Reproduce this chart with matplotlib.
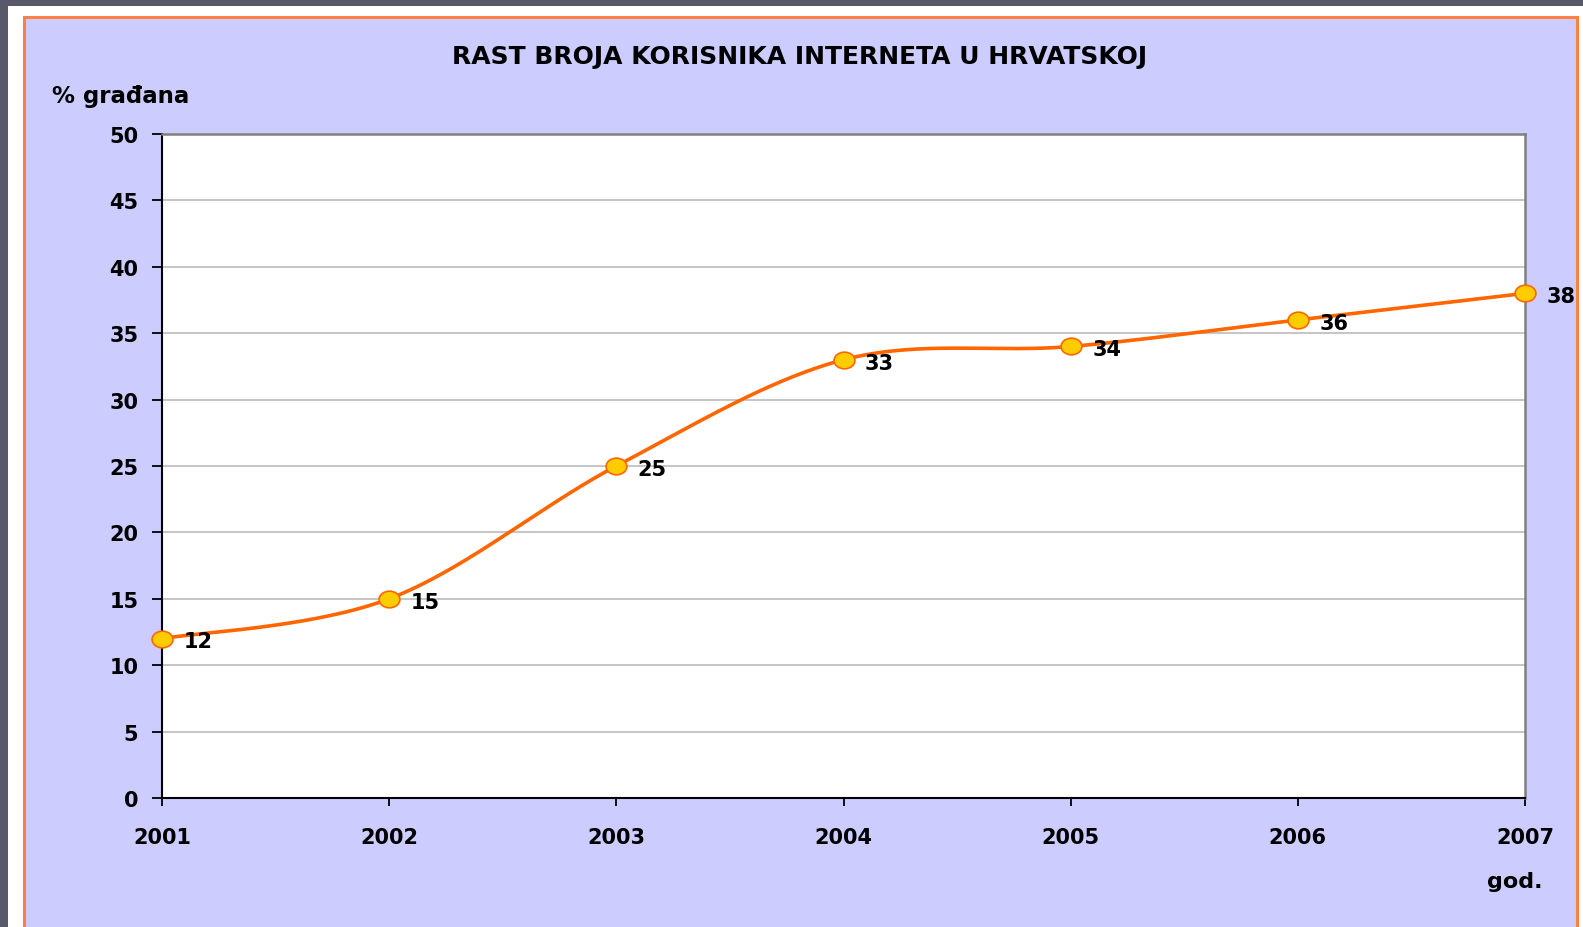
import numpy as np
import matplotlib
matplotlib.use("Agg")
import matplotlib.pyplot as plt
from matplotlib.patches import Rectangle
from matplotlib.path import Path
from matplotlib.transforms import Affine2D

years = [2001, 2002, 2003, 2004, 2005, 2006, 2007]
values = [12, 15, 25, 33, 34, 36, 38]
yticks = [0, 5, 10, 15, 20, 25, 30, 35, 40, 45, 50]
title = "RAST BROJA KORISNIKA INTERNETA U HRVATSKOJ"
ylabel = "% građana"
xlabel = "god."

plt.rcParams['font.family'] = ['DejaVu Sans']
plt.rcParams['font.weight'] = 'bold'

W, H = 1583, 928
fig = plt.figure(figsize=(W / 100, H / 100), dpi=100)
fig.patch.set_facecolor('white')

def fx(px):
    return px / W

def fy(py):
    return 1 - py / H

# dark outer strips
fig.patches.append(Rectangle((0, fy(7)), 1, 7 / H, transform=fig.transFigure,
                             facecolor='#585a6b', edgecolor='none', zorder=0))
fig.patches.append(Rectangle((0, 0), fx(8), 1, transform=fig.transFigure,
                             facecolor='#585a6b', edgecolor='none', zorder=0))
# lavender panel with orange border
fig.patches.append(Rectangle((fx(24), fy(935)), fx(1577 - 24), (935 - 18) / H,
                             transform=fig.transFigure, facecolor='#ccccff',
                             edgecolor='#ff8040', linewidth=2.2, zorder=1))

ax = fig.add_axes([fx(162), fy(799), fx(1525 - 162), (799 - 135) / H])
ax.set_facecolor('white')
ax.set_zorder(2)

# smooth curve (Catmull-Rom through the data points, like Excel smoothing)
x = np.array(years, dtype=float)
y = np.array(values, dtype=float)
n = len(x)
mx = np.zeros(n)
my = np.zeros(n)
for i in range(n):
    i0 = max(i - 1, 0)
    i1 = min(i + 1, n - 1)
    mx[i] = (x[i1] - x[i0]) / 2
    my[i] = (y[i1] - y[i0]) / 2
cx, cy = [], []
t = np.linspace(0, 1, 60)
h00 = 2 * t**3 - 3 * t**2 + 1
h10 = t**3 - 2 * t**2 + t
h01 = -2 * t**3 + 3 * t**2
h11 = t**3 - t**2
for i in range(n - 1):
    cx.extend(h00 * x[i] + h10 * mx[i] + h01 * x[i + 1] + h11 * mx[i + 1])
    cy.extend(h00 * y[i] + h10 * my[i] + h01 * y[i + 1] + h11 * my[i + 1])
ax.plot(cx, cy, color='#ff6600', linewidth=2.6, zorder=3, clip_on=False,
        solid_capstyle='round')

ell = Path.unit_circle().transformed(Affine2D().scale(1.25, 1.0))
ax.plot(years, values, linestyle='none', marker=ell, markersize=15,
        markerfacecolor='#ffcc00', markeredgecolor='#ff6600',
        markeredgewidth=1.2, zorder=4, clip_on=False)

for xv, yv in zip(years, values):
    ax.annotate(str(yv), (xv, yv), xytext=(15.5, -2), textcoords='offset points',
                ha='left', va='center', fontsize=15, fontweight='bold',
                color='black', zorder=5, annotation_clip=False)

ax.set_xlim(2001, 2007)
ax.set_ylim(0, 50)
ax.set_xticks(years)
ax.set_xticklabels([str(v) for v in years])
ax.set_yticks(yticks)
ax.set_yticklabels([str(v) for v in yticks])
ax.grid(axis='y', color='#c0c0c0', linewidth=1.3)
ax.set_axisbelow(True)

for side in ['left', 'bottom']:
    ax.spines[side].set_color('black')
    ax.spines[side].set_linewidth(1.5)
for side in ['top', 'right']:
    ax.spines[side].set_color('#808080')
    ax.spines[side].set_linewidth(1.8)

ax.tick_params(axis='y', direction='out', length=7, width=1.3, pad=10,
               labelsize=15, colors='black')
ax.tick_params(axis='x', direction='out', length=6, width=1.3, pad=15,
               labelsize=15, colors='black')
for lab in ax.get_xticklabels() + ax.get_yticklabels():
    lab.set_fontweight('bold')

fig.text(fx(800), fy(57), title, ha='center', va='center', fontsize=18,
         fontweight='bold', color='black')
fig.text(fx(52), fy(97), ylabel, ha='left', va='center', fontsize=16.5,
         fontweight='bold', color='black')
fig.text(fx(1542), fy(882), xlabel, ha='right', va='center', fontsize=16,
         fontweight='bold', color='black')

fig.savefig('out.png', dpi=100, facecolor=fig.get_facecolor())
